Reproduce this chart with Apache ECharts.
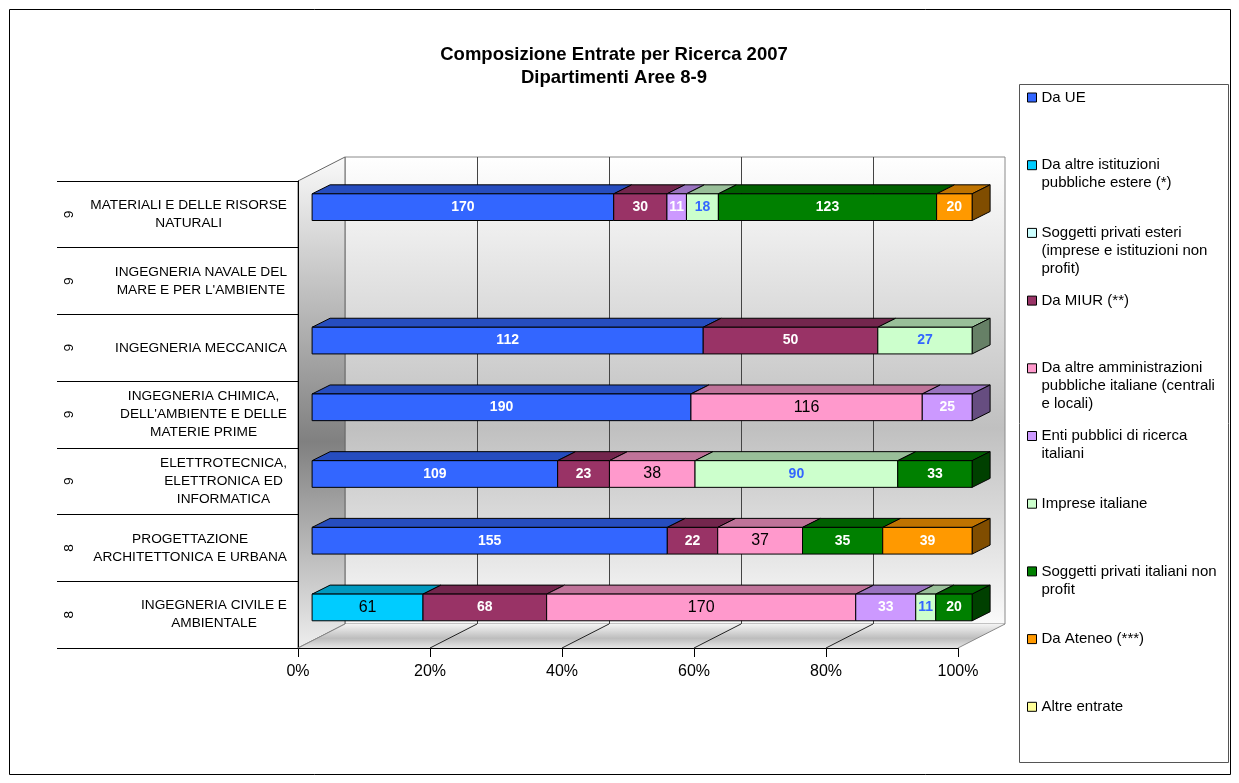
<!DOCTYPE html>
<html>
<head>
<meta charset="utf-8">
<title>Composizione Entrate per Ricerca 2007</title>
<script src="https://cdn.jsdelivr.net/npm/echarts@6/dist/echarts.min.js"></script>
<style>
  html, body { margin: 0; padding: 0; background: #fff; }
  #main { width: 1239px; height: 783px; }
</style>
</head>
<body>
<div id="main"></div>
<script>
// categories, top to bottom
const categories = [
  "MATERIALI E DELLE RISORSE\nNATURALI",
  "INGEGNERIA NAVALE DEL\nMARE E PER L'AMBIENTE",
  "INGEGNERIA MECCANICA",
  "INGEGNERIA CHIMICA,\nDELL'AMBIENTE E DELLE\nMATERIE PRIME",
  "ELETTROTECNICA,\nELETTRONICA ED\nINFORMATICA",
  "PROGETTAZIONE\nARCHITETTONICA E URBANA",
  "INGEGNERIA CIVILE E\nAMBIENTALE"
];
const areas = ["9", "9", "9", "9", "9", "8", "8"];
const tickValues = [0, 20, 40, 60, 80, 100];

// values per source (one entry per category)
const daUE         = [170, 0, 112, 190, 109, 155, 0];
const istEstere    = [0, 0, 0, 0, 0, 0, 61];
const privEsteri   = [0, 0, 0, 0, 0, 0, 0];
const miur         = [30, 0, 50, 0, 23, 22, 68];
const ammItaliane  = [0, 0, 0, 116, 38, 37, 170];
const entiRicerca  = [11, 0, 0, 25, 0, 0, 33];
const impreseIt    = [18, 0, 27, 0, 90, 0, 11];
const nonProfit    = [123, 0, 0, 0, 33, 35, 20];
const ateneo       = [20, 0, 0, 0, 0, 39, 0];
const altreEntrate = [0, 0, 0, 0, 0, 0, 0];

const seriesNames = [
  "Da UE",
  "Da altre istituzioni pubbliche estere (*)",
  "Soggetti privati esteri (imprese e istituzioni non profit)",
  "Da MIUR (**)",
  "Da altre amministrazioni pubbliche italiane (centrali e locali)",
  "Enti pubblici di ricerca italiani",
  "Imprese italiane",
  "Soggetti privati italiani non profit",
  "Da Ateneo (***)",
  "Altre entrate"
];
const legendLabels = [
  "Da UE",
  "Da altre istituzioni\npubbliche estere (*)",
  "Soggetti privati esteri\n(imprese e istituzioni non\nprofit)",
  "Da MIUR (**)",
  "Da altre amministrazioni\npubbliche italiane (centrali\ne locali)",
  "Enti pubblici di ricerca\nitaliani",
  "Imprese italiane",
  "Soggetti privati italiani non\nprofit",
  "Da Ateneo (***)",
  "Altre entrate"
];
const seriesValues = [daUE, istEstere, privEsteri, miur, ammItaliane,
  entiRicerca, impreseIt, nonProfit, ateneo, altreEntrate];

// styles
const FONT = "'Liberation Sans', Arial, sans-serif";
const seriesColors = ["#3366FF", "#00CCFF", "#CCFFFF", "#993366", "#FF99CC",
  "#CC99FF", "#CCFFCC", "#008000", "#FF9900", "#FFFF99"];
const labelColors = ["#fff", "#000", "#000", "#fff", "#000",
  "#fff", "#3366FF", "#fff", "#fff", "#000"];
const labelBold = [true, false, false, true, false, true, true, true, true, false];

// 3D layout
const W = 1239, H = 783;
const FRONT = { left: 298, right: 958, top: 181, bottom: 648 };
const DEPTH = [47, -24];
const BAR_T = 0.3;
const BAR_RATIO = 0.4;
const BAR_DEPTH = [18, -9];
const LEGEND_LH = 18;

function shade(hex, f) {
  const n = parseInt(hex.slice(1), 16);
  const r = Math.round(((n >> 16) & 255) * f);
  const g = Math.round(((n >> 8) & 255) * f);
  const b = Math.round((n & 255) * f);
  return "rgb(" + r + "," + g + "," + b + ")";
}

// 100% stacked segments
const totals = categories.map((c, i) => seriesValues.reduce((s, arr) => s + arr[i], 0));
const lastIdx = categories.map((c, i) => {
  let l = -1;
  seriesValues.forEach((arr, k) => { if (arr[i] > 0) l = k; });
  return l;
});
const acc = categories.map(() => 0);
const seriesData = seriesValues.map((arr, k) => arr.map((v, i) => {
  const t = totals[i] || 1;
  const s = acc[i] / t * 100;
  acc[i] += v;
  return [s, acc[i] / t * 100, i, v, lastIdx[i] === k ? 1 : 0];
}));

function renderSegment(params, api) {
  const v = api.value(3);
  if (!v) return null;
  const k = params.seriesIndex;
  const cat = api.value(2);
  const a = api.coord([api.value(0), cat]);
  const b = api.coord([api.value(1), cat]);
  const h = api.size([0, 1])[1] * BAR_RATIO;
  const x0 = a[0], x1 = b[0], yT = a[1] - h / 2, yB = a[1] + h / 2;
  const dx = BAR_DEPTH[0], dy = BAR_DEPTH[1];
  const base = seriesColors[k];
  const children = [{
    type: "polygon",
    shape: { points: [[x0, yT], [x0 + dx, yT + dy], [x1 + dx, yT + dy], [x1, yT]] },
    style: { fill: shade(base, 0.75), stroke: "#000", lineWidth: 1 }
  }];
  if (api.value(4)) {
    children.push({
      type: "polygon",
      shape: { points: [[x1, yT], [x1 + dx, yT + dy], [x1 + dx, yB + dy], [x1, yB]] },
      style: { fill: shade(base, 0.5), stroke: "#000", lineWidth: 1 }
    });
  }
  children.push({
    type: "rect",
    shape: { x: x0, y: yT, width: x1 - x0, height: h },
    style: { fill: base, stroke: "#000", lineWidth: 1 }
  });
  children.push({
    type: "text",
    style: {
      text: String(v), x: (x0 + x1) / 2, y: (yT + yB) / 2,
      align: "center", verticalAlign: "middle", fill: labelColors[k],
      font: (labelBold[k] ? "bold 14px " : "16px ") + FONT
    }
  });
  return { type: "group", children: children };
}

const chart = echarts.init(document.getElementById("main"));

const option = {
  animation: false,
  backgroundColor: "#fff",
  title: {
    text: "Composizione Entrate per Ricerca 2007\nDipartimenti Aree 8-9",
    left: 614, top: 43, textAlign: "center", padding: 0,
    textStyle: { fontSize: 18.5, fontWeight: "bold", lineHeight: 23, color: "#000", fontFamily: FONT }
  },
  legend: {
    orient: "vertical", left: 1027, top: 97.5 - 2.5 * LEGEND_LH, padding: 0,
    itemGap: 67.7 - 5 * LEGEND_LH,
    itemWidth: 9, itemHeight: 9, icon: "rect", selectedMode: false,
    itemStyle: { borderColor: "#000", borderWidth: 1 },
    textStyle: { fontSize: 15, lineHeight: LEGEND_LH, color: "#000", fontFamily: FONT },
    data: seriesNames,
    formatter: function (name) {
      const lines = legendLabels[seriesNames.indexOf(name)].split("\n");
      while (lines.length < 3) lines.push("");
      return "\n\n" + lines.join("\n");
    }
  },
  grid: [
    { // bars, at mid depth
      left: FRONT.left + BAR_T * DEPTH[0], right: W - FRONT.right - BAR_T * DEPTH[0],
      top: FRONT.top + BAR_T * DEPTH[1], bottom: H - FRONT.bottom - BAR_T * DEPTH[1]
    },
    { // front plane
      left: FRONT.left, right: W - FRONT.right, top: FRONT.top, bottom: H - FRONT.bottom
    },
    { // back wall
      left: FRONT.left + DEPTH[0], right: W - FRONT.right - DEPTH[0],
      top: FRONT.top + DEPTH[1], bottom: H - FRONT.bottom - DEPTH[1],
      show: true, borderColor: "#8a8a8a", borderWidth: 1,
      backgroundColor: {
        type: "linear", x: 0, y: 0, x2: 0, y2: 1,
        colorStops: [{ offset: 0, color: "#ffffff" }, { offset: 0.58, color: "#c0c0c0" }, { offset: 1, color: "#fafafa" }]
      }
    }
  ],
  xAxis: [
    { gridIndex: 0, type: "value", min: 0, max: 100, show: false },
    {
      gridIndex: 1, type: "value", min: 0, max: 100, interval: 20,
      axisLine: { show: true, lineStyle: { color: "#000", width: 1 } },
      axisTick: { show: true, length: 9, lineStyle: { color: "#000" } },
      splitLine: { show: false },
      axisLabel: { formatter: "{value}%", color: "#000", fontSize: 16, fontFamily: FONT, margin: 16 }
    },
    {
      gridIndex: 2, type: "value", min: 0, max: 100, interval: 20,
      axisLine: { show: false }, axisTick: { show: false }, axisLabel: { show: false },
      splitLine: { show: true, showMinLine: false, showMaxLine: false, lineStyle: { color: "#444", width: 1 } }
    }
  ],
  yAxis: [
    { gridIndex: 0, type: "category", inverse: true, data: categories, show: false },
    {
      gridIndex: 1, type: "category", inverse: true, data: categories,
      axisLine: { show: true, lineStyle: { color: "#000", width: 1 } },
      axisTick: { show: true, length: 241, interval: 0, lineStyle: { color: "#000" } },
      axisLabel: {
        interval: 0, margin: 11, color: "#000",
        formatter: function (v) {
          return v.split("\n").map(function (l) { return "{c|" + l + "}"; }).join("\n");
        },
        rich: { c: { align: "center", fontSize: 13.7, lineHeight: 18, fontFamily: FONT, color: "#000" } }
      }
    },
    {
      gridIndex: 1, type: "category", inverse: true, data: areas, position: "left", offset: 229,
      axisLine: { show: false }, axisTick: { show: false },
      axisLabel: {
        interval: 0, rotate: 90, margin: 0, align: "center", verticalAlign: "middle",
        fontSize: 13.7, color: "#000", fontFamily: FONT
      }
    },
    { gridIndex: 2, type: "value", show: false }
  ],
  series: seriesNames.map(function (name, k) {
    return {
      name: name,
      type: "custom",
      xAxisIndex: 0, yAxisIndex: 0,
      renderItem: renderSegment,
      itemStyle: { color: seriesColors[k] },
      encode: { x: [0, 1], y: 2 },
      clip: false,
      z: 5,
      data: seriesData[k]
    };
  })
};

chart.setOption(option);

// walls and floor, built from the front axis
const fx = function (v) { return chart.convertToPixel({ xAxisIndex: 1 }, v); };
const xl = fx(0), xr = fx(100);
const dx = DEPTH[0], dy = DEPTH[1];
const graphics = [
  {
    type: "rect", z: 0, silent: true,
    shape: { x: 9.5, y: 9.5, width: 1221, height: 765 },
    style: { fill: null, stroke: "#000", lineWidth: 1 }
  },
  {
    type: "rect", z: 0, silent: true,
    shape: { x: 1019.5, y: 84.5, width: 209, height: 678 },
    style: { fill: null, stroke: "#555", lineWidth: 1 }
  },
  {
    type: "polygon", z: 0, silent: true,
    shape: { points: [[xl, FRONT.top], [xl + dx, FRONT.top + dy], [xl + dx, FRONT.bottom + dy], [xl, FRONT.bottom]] },
    style: {
      stroke: "#666", lineWidth: 1,
      fill: {
        type: "linear", x: 0, y: 0, x2: 0, y2: 1,
        colorStops: [{ offset: 0, color: "#fafafa" }, { offset: 0.58, color: "#808080" }, { offset: 1, color: "#eeeeee" }]
      }
    }
  },
  {
    type: "polygon", z: 0, silent: true,
    shape: { points: [[xl, FRONT.bottom], [xr, FRONT.bottom], [xr + dx, FRONT.bottom + dy], [xl + dx, FRONT.bottom + dy]] },
    style: {
      stroke: null,
      fill: {
        type: "linear", x: 0, y: 0, x2: 0, y2: 1,
        colorStops: [{ offset: 0, color: "#f4f4f4" }, { offset: 0.6, color: "#bdbdbd" }, { offset: 1, color: "#e6e6e6" }]
      }
    }
  }
];
tickValues.forEach(function (v) {
  const x = fx(v);
  const edge = v === tickValues[0] || v === tickValues[tickValues.length - 1];
  graphics.push({
    type: "line", z: 1, silent: true,
    shape: { x1: x + dx, y1: FRONT.bottom + dy, x2: x, y2: FRONT.bottom },
    style: { stroke: edge ? "#888" : "#222", lineWidth: 1 }
  });
});
chart.setOption({ graphic: graphics });
</script>
</body>
</html>
